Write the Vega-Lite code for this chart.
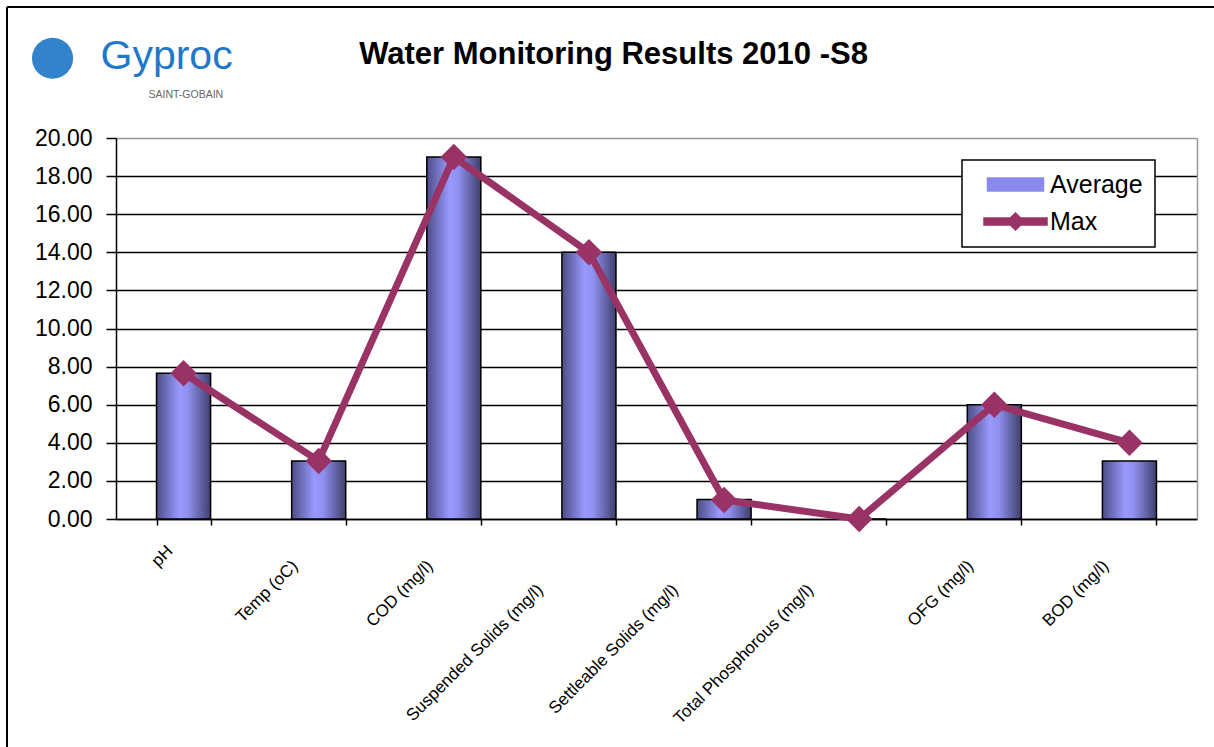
{
  "$schema": "https://vega.github.io/schema/vega-lite/v6.json",
  "width": 1207,
  "height": 740,
  "autosize": {"type": "none"},
  "padding": {"left": 7, "top": 7, "right": 0, "bottom": 0},
  "background": "white",
  "config": {
    "view": {"stroke": "black", "strokeWidth": 2, "strokeDash": [1207, 1947, 740, 0]},
    "font": "Liberation Sans"
  },
  "title": {
    "text": "Water Monitoring Results 2010 -S8",
    "font": "Liberation Sans",
    "fontSize": 31,
    "fontWeight": "bold",
    "color": "black",
    "anchor": "middle",
    "frame": "group",
    "dx": 3,
    "offset": -88,
    "baseline": "alphabetic"
  },
  "data": {
    "values": [
      {"param": "pH", "average": 7.65, "max": 7.65},
      {"param": "Temp (oC)", "average": 3.05, "max": 3.05},
      {"param": "COD (mg/l)", "average": 19.0, "max": 19.0},
      {"param": "Suspended Solids (mg/l)", "average": 14.0, "max": 14.0},
      {"param": "Settleable Solids (mg/l)", "average": 1.02, "max": 1.0},
      {"param": "Total Phosphorous (mg/l)", "average": 0.0, "max": 0.0},
      {"param": "OFG (mg/l)", "average": 6.0, "max": 6.0},
      {"param": "BOD (mg/l)", "average": 3.05, "max": 4.0}
    ]
  },
  "encoding": {
    "x": {
      "field": "param",
      "type": "nominal",
      "sort": null,
      "scale": {"range": [109, 1190], "paddingInner": 0.6, "paddingOuter": 0.3},
      "axis": {
        "title": "SAINT-GOBAIN",
        "titleX": 141,
        "titleY": -422,
        "titleAlign": "left",
        "titleBaseline": "alphabetic",
        "titleFont": "Liberation Sans",
        "titleFontSize": 10.5,
        "titleFontWeight": "normal",
        "titleColor": "#666666",
        "offset": -228,
        "tickBand": "extent",
        "tickSize": 6,
        "tickWidth": 1.5,
        "tickColor": "black",
        "domainColor": "black",
        "domainWidth": 1.5,
        "grid": false,
        "labelAngle": -45,
        "labelAlign": "right",
        "labelBaseline": "middle",
        "labelFont": "Liberation Sans",
        "labelFontSize": 17,
        "labelColor": "black",
        "labelLimit": 400,
        "labelOverlap": false,
        "labelOffset": {
          "condition": [
            {"test": "datum.value === 'pH'", "value": -14},
            {"test": "indexof(['Suspended Solids (mg/l)','Settleable Solids (mg/l)','Total Phosphorous (mg/l)'], datum.value) >= 0", "value": -49}
          ],
          "value": -24
        },
        "labelPadding": {
          "condition": [
            {"test": "datum.value === 'pH'", "value": 23},
            {"test": "indexof(['Suspended Solids (mg/l)','Settleable Solids (mg/l)','Total Phosphorous (mg/l)'], datum.value) >= 0", "value": 62}
          ],
          "value": 38
        }
      }
    }
  },
  "layer": [
    {
      "mark": {
        "type": "bar",
        "fill": {
          "gradient": "linear",
          "x1": 0, "y1": 0, "x2": 1, "y2": 0,
          "stops": [
            {"offset": 0, "color": "#4d4d85"},
            {"offset": 0.42, "color": "#9999ff"},
            {"offset": 0.58, "color": "#9090f0"},
            {"offset": 1, "color": "#3f3f6c"}
          ]
        },
        "stroke": "black",
        "strokeWidth": 1.5
      },
      "encoding": {
        "y": {
          "field": "average",
          "type": "quantitative",
          "scale": {"domain": [0, 20], "range": [512, 131], "nice": false, "zero": true},
          "axis": {
            "orient": "left",
            "offset": -109,
            "title": "Gyproc",
            "titleAngle": 0,
            "titleAlign": "left",
            "titleBaseline": "alphabetic",
            "titleX": -16,
            "titleY": 61,
            "titleFont": "Liberation Sans",
            "titleFontSize": 41,
            "titleFontWeight": "normal",
            "titleColor": "#1f78c8",
            "values": [0, 2, 4, 6, 8, 10, 12, 14, 16, 18, 20],
            "format": ".2f",
            "labelFont": "Liberation Sans",
            "labelFontSize": 23,
            "labelColor": "black",
            "labelPadding": 14,
            "labelFlush": false,
            "labelOverlap": false,
            "tickSize": 10,
            "tickWidth": 1.5,
            "tickColor": "black",
            "domainColor": "black",
            "domainWidth": 1.5,
            "grid": true,
            "gridColor": {"condition": {"test": "datum.value === 20", "value": "#999999"}, "value": "black"},
            "gridWidth": 1.5
          }
        }
      }
    },
    {
      "mark": {"type": "line", "strokeWidth": 7},
      "encoding": {
        "y": {
          "field": "max",
          "type": "quantitative",
          "axis": {
            "orient": "right",
            "offset": -17,
            "title": "●",
            "titleAngle": 0,
            "titleX": -1145,
            "titleY": 48,
            "titleAlign": "center",
            "titleBaseline": "middle",
            "titleFont": "DejaVu Sans",
            "titleFontSize": 54,
            "titleFontWeight": "normal",
            "titleColor": "#3383cc",
            "labels": false,
            "ticks": false,
            "grid": false,
            "domainColor": "#999999",
            "domainWidth": 1.5
          }
        },
        "color": {
          "datum": "Max",
          "scale": {"domain": ["Average", "Max"], "range": ["#8a8aee", "#993366"]},
          "legend": {
            "orient": "none",
            "legendX": 955,
            "legendY": 153,
            "title": null,
            "strokeColor": "black",
            "fillColor": "white",
            "padding": 12,
            "labelFont": "Liberation Sans",
            "labelFontSize": 25,
            "labelColor": "black",
            "rowPadding": 11,
            "symbolSize": 400,
            "symbolOffset": 29,
            "labelOffset": 22,
            "encode": {
              "legend": {"update": {"strokeWidth": {"value": 1.5}}},
              "symbols": {
                "update": {
                  "size": {"value": 400},
                  "shape": [
                    {"test": "datum.value === 'Average'", "value": "M-2.8,-0.65L2.8,-0.65L2.8,0.65L-2.8,0.65Z"},
                    {"value": "M-3.15,-0.35L-0.51,-0.35L0,-0.85L0.51,-0.35L3.15,-0.35L3.15,0.35L0.51,0.35L0,0.85L-0.51,0.35L-3.15,0.35Z"}
                  ]
                }
              }
            }
          }
        }
      }
    },
    {
      "mark": {"type": "point", "shape": "diamond", "filled": true, "size": 700, "opacity": 1},
      "encoding": {
        "y": {"field": "max", "type": "quantitative", "axis": null},
        "color": {"datum": "Max"}
      }
    }
  ],
  "resolve": {"axis": {"y": "independent"}}
}
